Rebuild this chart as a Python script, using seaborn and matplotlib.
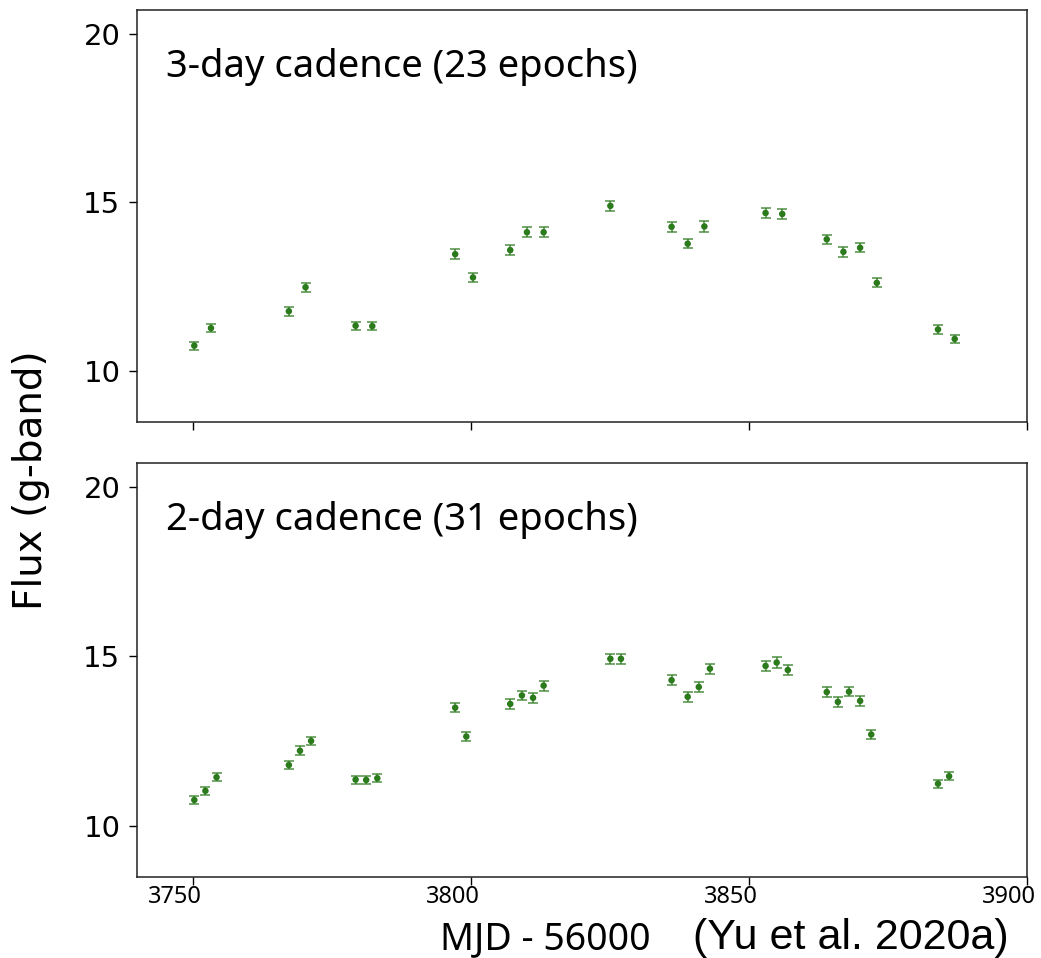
import numpy as np
import pandas as pd
import matplotlib
matplotlib.use("Agg")
import matplotlib.pyplot as plt
import matplotlib.transforms as mtransforms
import seaborn as sns

# ---- data ----
mjd_3day = [3750.3, 3753.3, 3767.3, 3770.3, 3779.3, 3782.3, 3797.2, 3800.4,
            3807.1, 3810.1, 3813.1, 3825.1, 3836.1, 3839.0, 3842.0, 3853.0,
            3856.0, 3864.0, 3867.0, 3870.0, 3873.0, 3884.0, 3887.0]
flux_3day = [10.76, 11.28, 11.78, 12.49, 11.35, 11.34, 13.47, 12.78,
             13.59, 14.12, 14.12, 14.90, 14.28, 13.78, 14.29, 14.69,
             14.66, 13.91, 13.54, 13.66, 12.62, 11.24, 10.96]
err_3day = [0.12, 0.12, 0.13, 0.13, 0.12, 0.12, 0.14, 0.13,
            0.14, 0.15, 0.15, 0.15, 0.15, 0.14, 0.15, 0.15,
            0.15, 0.14, 0.14, 0.14, 0.13, 0.12, 0.12]

mjd_2day = [3750.3, 3752.3, 3754.3, 3767.3, 3769.3, 3771.3, 3779.3, 3781.2,
            3783.2, 3797.2, 3799.2, 3807.1, 3809.2, 3811.2, 3813.1, 3825.1,
            3827.0, 3836.1, 3839.0, 3841.0, 3843.0, 3853.0, 3855.0, 3857.0,
            3864.0, 3866.0, 3868.0, 3870.0, 3872.0, 3884.0, 3886.0]
flux_2day = [10.77, 11.04, 11.44, 11.80, 12.22, 12.51, 11.37, 11.36,
             11.41, 13.49, 12.64, 13.60, 13.85, 13.78, 14.14, 14.93,
             14.93, 14.30, 13.81, 14.10, 14.64, 14.72, 14.82, 14.60,
             13.95, 13.66, 13.96, 13.69, 12.70, 11.25, 11.47]
err_2day = [0.12, 0.12, 0.12, 0.13, 0.13, 0.13, 0.12, 0.12,
            0.12, 0.14, 0.13, 0.14, 0.14, 0.14, 0.15, 0.15,
            0.15, 0.15, 0.14, 0.14, 0.15, 0.15, 0.15, 0.15,
            0.14, 0.14, 0.14, 0.14, 0.13, 0.12, 0.12]

labels = ["3-day cadence (23 epochs)", "2-day cadence (31 epochs)"]
xticks = [3750, 3800, 3850, 3900]
yticks = [10, 15, 20]

sns.set_style("ticks")
plt.rcParams["font.family"] = ["DejaVu Sans"]
plt.rcParams["text.color"] = "black"
plt.rcParams["xtick.color"] = "black"
plt.rcParams["ytick.color"] = "black"
plt.rcParams["axes.edgecolor"] = "black"

W, H = 1041, 958
fig = plt.figure(figsize=(W / 100, H / 100), dpi=100)
ax_top = fig.add_axes([137 / W, (H - 422) / H, 890 / W, 412 / H])
ax_bot = fig.add_axes([137 / W, (H - 877) / H, 890 / W, 414 / H], sharex=ax_top)

point_color = "#2b7a1c"
datasets = [(ax_top, mjd_3day, flux_3day, err_3day, labels[0]),
            (ax_bot, mjd_2day, flux_2day, err_2day, labels[1])]

for ax, x, y, e, lab in datasets:
    df = pd.DataFrame({"mjd": x, "flux": y, "err": e})
    ax.errorbar(df["mjd"], df["flux"], yerr=df["err"], fmt="none",
                ecolor=point_color, alpha=0.65, elinewidth=1.4,
                capsize=3.3, capthick=1.4, zorder=2)
    sns.scatterplot(data=df, x="mjd", y="flux", ax=ax, color=point_color,
                    s=22, edgecolor="none", zorder=3, legend=False)
    ax.set_xlim(3740, 3900)
    ax.set_ylim(8.5, 20.7)
    ax.set_yticks(yticks)
    ax.set_xlabel("")
    ax.set_ylabel("")
    ax.tick_params(axis="y", labelsize=21, length=6, width=1, pad=6,
                   colors="black")
    ax.tick_params(axis="x", length=6, width=1, colors="black")
    for sp in ax.spines.values():
        sp.set_linewidth(1.1)
        sp.set_color("#222222")
    ax.text(0.033, 0.837, lab, transform=ax.transAxes, ha="left",
            va="baseline", fontsize=27.5, color="black",
            family=["Noto Sans", "DejaVu Sans"])

ax_top.set_xticks(xticks)
ax_top.tick_params(axis="x", labelbottom=False)
ax_bot.tick_params(axis="x", labelsize=17, pad=0)
for t in ax_bot.get_xticklabels():
    t.set_family(["Noto Sans", "DejaVu Sans"])
    t.set_transform(t.get_transform() +
                    mtransforms.ScaledTranslation(-18 / 100, 0, fig.dpi_scale_trans))

fig.text(31 / W, 1 - 480 / H, "Flux (g-band)", rotation=90, ha="center",
         va="center", fontsize=28, color="black")
fig.text(440 / W, 1 - 949 / H, "MJD - 56000", ha="left", va="baseline",
         fontsize=27, color="black", family=["Noto Sans", "DejaVu Sans"])
fig.text(693 / W, 1 - 949 / H, "(Yu et al. 2020a)", ha="left", va="baseline",
         fontsize=31, color="black", family=["Liberation Sans", "DejaVu Sans"])

fig.savefig("out.png", dpi=100)
